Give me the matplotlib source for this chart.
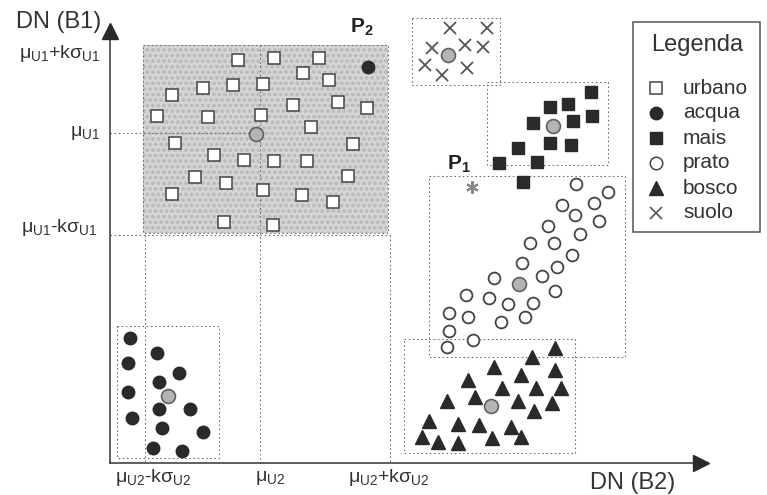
import numpy as np
import matplotlib.pyplot as plt
from matplotlib.patches import Rectangle

plt.rcParams['font.family'] = ['Liberation Sans', 'DejaVu Sans']
plt.rcParams['mathtext.fontset'] = 'custom'
plt.rcParams['mathtext.rm'] = 'Liberation Sans'
plt.rcParams['mathtext.it'] = 'Liberation Sans:italic'
plt.rcParams['mathtext.bf'] = 'Liberation Sans:bold'
plt.rcParams['mathtext.default'] = 'regular'

# point positions (pixel coords, y downwards)
urbano_x = [238, 274, 319, 303, 329, 172, 203, 233, 263, 293, 338, 367, 157, 208, 261, 311,
            175, 353, 214, 244, 274, 307, 195, 226, 263, 302, 348, 172, 333, 224, 273]
urbano_y = [60, 58, 58, 73, 80, 95, 88, 85, 84, 105, 102, 108, 116, 117, 115, 127,
            143, 144, 155, 160, 161, 161, 177, 183, 190, 195, 176, 194, 202, 222, 225]

acqua_x = [130, 128, 157, 179, 159, 128, 159, 190, 132, 162, 203, 153, 182]
acqua_y = [338, 363, 353, 373, 382, 392, 409, 409, 418, 428, 432, 448, 451]

mais_x = [591, 550, 568, 592, 533, 573, 550, 571, 518, 537, 499, 523]
mais_y = [92, 107, 104, 116, 123, 121, 143, 145, 148, 162, 163, 182]

prato_x = [576, 608, 562, 594, 575, 599, 548, 580, 530, 554, 572, 522, 557, 494,
           542, 555, 466, 489, 508, 533, 449, 468, 501, 525, 449, 473, 447]
prato_y = [184, 192, 205, 203, 215, 221, 226, 234, 243, 243, 255, 263, 267, 278,
           276, 291, 295, 298, 304, 303, 313, 317, 322, 317, 331, 340, 347]

bosco_x = [555, 532, 494, 555, 521, 468, 502, 536, 561, 475, 447, 518, 552, 534,
           429, 458, 479, 511, 422, 438, 458, 492, 521]
bosco_y = [348, 357, 367, 370, 375, 380, 388, 388, 388, 397, 401, 401, 403, 411,
           421, 424, 425, 427, 437, 442, 443, 438, 437]

suolo_x = [450, 487, 432, 465, 483, 425, 442, 467]
suolo_y = [28, 28, 48, 45, 47, 65, 75, 68]

# class means
centroid_x = [256, 168, 553, 519, 491, 448]
centroid_y = [134, 396, 126, 284, 406, 55]

# class boxes: x0, y0, x1, y1
boxes = {
    'urbano': (143, 45, 388, 233),
    'acqua': (117, 326, 219, 458),
    'mais': (487, 82, 608, 165),
    'prato': (429, 176, 625, 357),
    'bosco': (404, 339, 575, 453),
    'suolo': (412, 18, 500, 85),
}

p1 = (472, 187)
p2 = (368, 67)

legend_names = ['urbano', 'acqua', 'mais', 'prato', 'bosco', 'suolo']

ink = '#2a2a2a'
dot = dict(color='#6a6a6a', lw=0.75, ls=(0, (1.5, 2.5)))

fig = plt.figure(figsize=(7.67, 4.95), dpi=100)
ax = fig.add_axes([0, 0, 1, 1])
ax.set_xlim(0, 767)
ax.set_ylim(495, 0)
ax.axis('off')

# shaded urbano box
x0, y0, x1, y1 = boxes['urbano']
ax.add_patch(Rectangle((x0, y0), x1 - x0, y1 - y0, facecolor='#d6d6d6',
                       edgecolor='#bdbdbd', hatch='ooo', lw=0, zorder=1))
for name, (x0, y0, x1, y1) in boxes.items():
    ax.plot([x0, x1, x1, x0, x0], [y0, y0, y1, y1, y0], zorder=2, **dot)

# guide lines
ax.plot([110, 256], [133, 133], zorder=2, **dot)
ax.plot([110, 390], [235, 235], zorder=2, **dot)
ax.plot([145, 145], [235, 463], zorder=2, **dot)
ax.plot([260, 260], [45, 463], zorder=2, **dot)
ax.plot([390, 390], [235, 463], zorder=2, **dot)

# axes with arrows
ax.plot([110, 110], [38, 463], color='#444444', lw=1.2, zorder=3)
ax.plot([110, 698], [463, 463], color='#444444', lw=1.2, zorder=3)
ax.plot([110], [31], marker='^', ms=11, color=ink, zorder=3)
ax.plot([701], [463], marker='>', ms=11, color=ink, zorder=3)

# points
ax.plot(urbano_x, urbano_y, 's', ms=9, mfc='white', mec='#444444', mew=1.1, ls='none', zorder=4)
ax.plot(acqua_x, acqua_y, 'o', ms=9, color=ink, ls='none', zorder=4)
ax.plot(mais_x, mais_y, 's', ms=8.5, color=ink, ls='none', zorder=4)
ax.plot(prato_x, prato_y, 'o', ms=8.5, mfc='white', mec='#444444', mew=1.3, ls='none', zorder=4)
ax.plot(bosco_x, bosco_y, '^', ms=9.5, color=ink, ls='none', zorder=4)
ax.plot(suolo_x, suolo_y, 'x', ms=9, color='#555555', mew=1.3, ls='none', zorder=4)
ax.plot(centroid_x, centroid_y, 'o', ms=10, mfc='#b4b4b4', mec='#606060', mew=1.2, ls='none', zorder=5)
ax.plot([p2[0]], [p2[1]], 'o', ms=9, color=ink, zorder=5)
ax.plot([p1[0]], [p1[1]], marker=(6, 2, 0), ms=9, color='#888888', mew=1.5, zorder=5)

# labels
fs = 14
ax.text(101, 22, 'DN (B1)', fontsize=17, color='#333333', ha='right', va='center')
ax.text(633, 483, 'DN (B2)', fontsize=17, color='#333333', ha='center', va='center')
ax.text(100, 53, '$μ_{U1}$+k$σ_{U1}$', fontsize=fs, color='#333333', ha='right', va='center')
ax.text(100, 133, '$μ_{U1}$', fontsize=fs, color='#333333', ha='right', va='center')
ax.text(98, 228, '$μ_{U1}$-k$σ_{U1}$', fontsize=fs, color='#333333', ha='right', va='center')
ax.text(153, 478, '$μ_{U2}$-k$σ_{U2}$', fontsize=fs, color='#333333', ha='center', va='center')
ax.text(270, 478, '$μ_{U2}$', fontsize=fs, color='#333333', ha='center', va='center')
ax.text(389, 478, '$μ_{U2}$+k$σ_{U2}$', fontsize=fs, color='#333333', ha='center', va='center')
ax.text(362, 27, r'$\mathbf{P_2}$', fontsize=15, color='#222222', ha='center', va='center')
ax.text(459, 164, r'$\mathbf{P_1}$', fontsize=15, color='#222222', ha='center', va='center')

# legend box
ax.add_patch(Rectangle((633, 22), 127, 210, facecolor='white', edgecolor='#555555', lw=1.1, zorder=6))
ax.text(697, 45, 'Legenda', fontsize=17, color='#333333', ha='center', va='center', zorder=7)
styles = [
    dict(marker='s', ms=9, mfc='white', mec='#444444', mew=1.1),
    dict(marker='o', ms=9, mfc=ink, mec=ink),
    dict(marker='s', ms=9, mfc=ink, mec=ink),
    dict(marker='o', ms=9, mfc='white', mec='#444444', mew=1.1),
    dict(marker='^', ms=10, mfc=ink, mec=ink),
    dict(marker='x', ms=9, color='#555555', mew=1.2),
]
for i, (name, st) in enumerate(zip(legend_names, styles)):
    y = 88 + i * 25
    ax.plot([656], [y], ls='none', zorder=7, **st)
    ax.text(683, y, name, fontsize=15, color='#333333', ha='left', va='center', zorder=7)

fig.savefig('out.png', dpi=100)
plt.close(fig)
